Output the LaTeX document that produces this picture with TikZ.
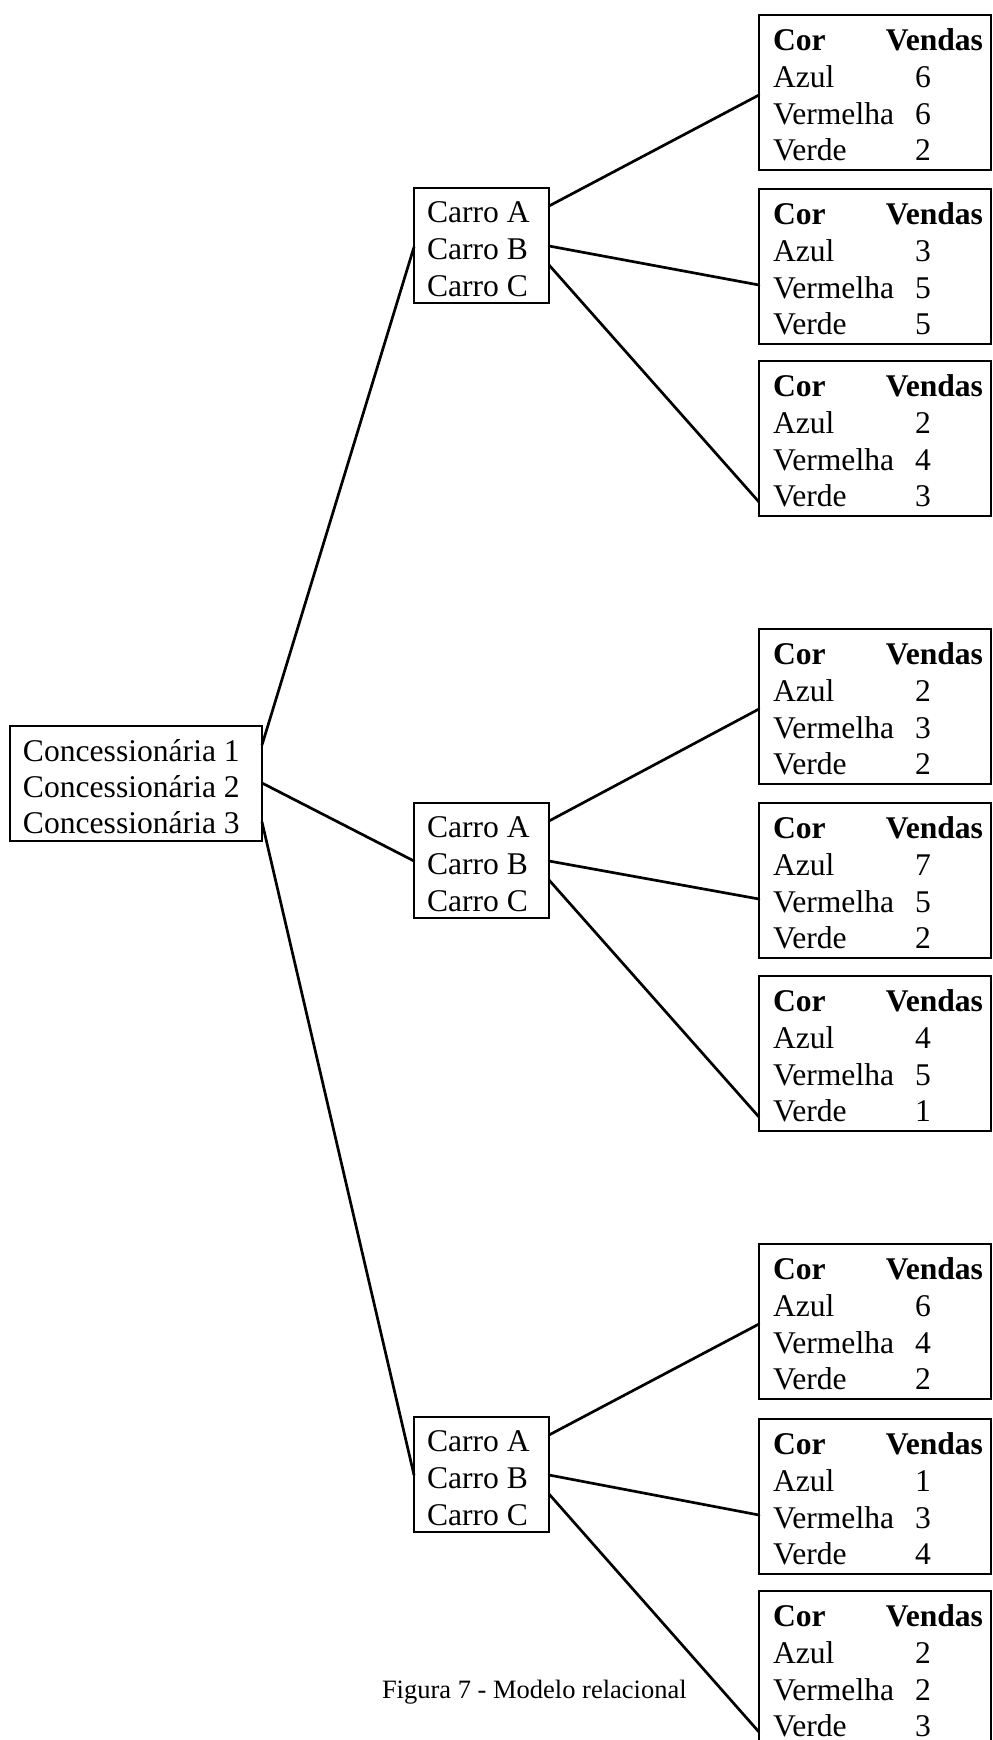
\documentclass[tikz,border=0pt]{standalone}
\usepackage{fontspec}
\setmainfont{Liberation Serif}
\usetikzlibrary{calc}

\tikzset{
  outline/.style={draw, line width=2.7pt, inner sep=0pt, outer sep=0pt, anchor=north west},
  salesbox/.style={outline, minimum width=232pt, minimum height=155pt},
  carbox/.style={outline, minimum width=135pt, minimum height=115pt},
  dealerbox/.style={outline, minimum width=252pt, minimum height=115pt},
  txt/.style={inner sep=0pt, outer sep=0pt, anchor=base west},
  txtr/.style={inner sep=0pt, outer sep=0pt, anchor=base east},
  num/.style={inner sep=0pt, outer sep=0pt, anchor=base},
  link/.style={line width=2.7pt, line cap=round},
}

% Sales table: name, top edge, Azul, Vermelha, Verde
\newcommand\SalesTable[5]{%
  \node[salesbox] (#1) at (759,#2) {};
  \node[txt]  (#1-h1) at ($(#1.north west)+(14,35)$) {\textbf{Cor}};
  \node[txtr] (#1-h2) at ($(#1.north east)+(-8,35)$) {\textbf{Vendas}};
  \node[txt]  (#1-l1) at ($(#1.north west)+(14,72)$) {Azul};
  \node[txt]  (#1-l2) at ($(#1.north west)+(14,109)$) {Vermelha};
  \node[txt]  (#1-l3) at ($(#1.north west)+(14,145)$) {Verde};
  \node[num]  (#1-n1) at ($(#1.north west)+(164,72)$) {#3};
  \node[num]  (#1-n2) at ($(#1.north west)+(164,109)$) {#4};
  \node[num]  (#1-n3) at ($(#1.north west)+(164,145)$) {#5};
}

% Car list box: name, top edge
\newcommand\CarList[2]{%
  \node[carbox] (#1) at (414,#2) {};
  \node[txt] (#1-a) at ($(#1.north west)+(13,34.5)$) {Carro A};
  \node[txt] (#1-b) at ($(#1.north west)+(13,71)$) {Carro B};
  \node[txt] (#1-c) at ($(#1.north west)+(13,108)$) {Carro C};
}

% Links from a car list to its three sales tables
\newcommand\CarLinks[4]{%
  \draw[link] ($(#1.north east)+(0,18)$) -- ($(#2.north west)+(0,80)$);
  \draw[link] ($(#1.north east)+(0,58)$) -- ($(#3.north west)+(0,96)$);
  \draw[link] ($(#1.north east)+(0,77)$) -- ($(#4.north west)+(0,141)$);
}

\begin{document}
\begin{tikzpicture}[x=1pt, y=-1pt, font=\fontsize{31.6pt}{36.7pt}\selectfont]
  \useasboundingbox (0,0) rectangle (993,1740);

  % dealerships
  \node[dealerbox] (dealers) at (10,726) {};
  \node[txt] (dealers-1) at ($(dealers.north west)+(13,35)$) {Concessionária 1};
  \node[txt] (dealers-2) at ($(dealers.north west)+(13,71)$) {Concessionária 2};
  \node[txt] (dealers-3) at ($(dealers.north west)+(13,107)$) {Concessionária 3};

  % cars per dealership
  \CarList{carsA}{188}
  \CarList{carsB}{803}
  \CarList{carsC}{1417}

  % sales by colour
  \SalesTable{t1}{15}{6}{6}{2}
  \SalesTable{t2}{189}{3}{5}{5}
  \SalesTable{t3}{361}{2}{4}{3}
  \SalesTable{t4}{629}{2}{3}{2}
  \SalesTable{t5}{803}{7}{5}{2}
  \SalesTable{t6}{976}{4}{5}{1}
  \SalesTable{t7}{1244}{6}{4}{2}
  \SalesTable{t8}{1419}{1}{3}{4}
  \SalesTable{t9}{1591}{2}{2}{3}

  % dealership links
  \draw[link] ($(dealers.north east)+(0,19)$) -- ($(carsA.north west)+(0,59)$);
  \draw[link] ($(dealers.north east)+(0,57)$) -- ($(carsB.north west)+(0,58)$);
  \draw[link] ($(dealers.north east)+(0,96)$) -- ($(carsC.north west)+(0,58)$);

  % car links
  \CarLinks{carsA}{t1}{t2}{t3}
  \CarLinks{carsB}{t4}{t5}{t6}
  \CarLinks{carsC}{t7}{t8}{t9}

  % caption
  \node[txt, font=\fontsize{26.5pt}{30pt}\selectfont] (caption) at (382,1698) {Figura 7 - Modelo relacional};
\end{tikzpicture}
\end{document}
